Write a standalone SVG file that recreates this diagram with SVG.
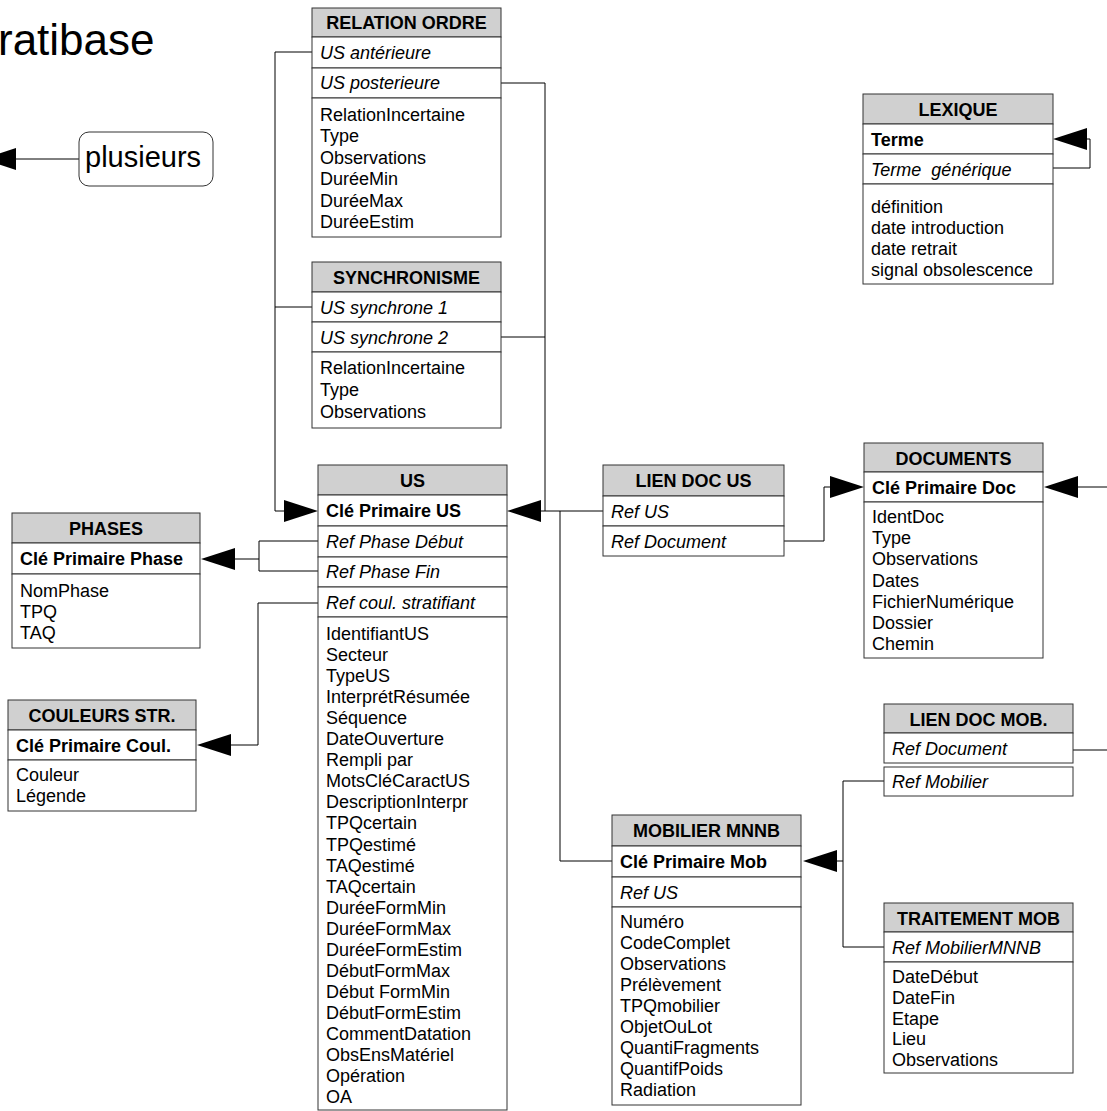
<svg xmlns="http://www.w3.org/2000/svg" width="1107" height="1111" viewBox="0 0 1107 1111">
<style>
text{font-family:"Liberation Sans",Arial,sans-serif;font-size:18px;fill:#000}
.b{font-weight:bold}
.i{font-style:italic}
.c{text-anchor:middle}
.h{fill:#d0d0d0;stroke:#333;stroke-width:1}
.r{fill:#fff;stroke:#333;stroke-width:1}
.ln{fill:none;stroke:#000;stroke-width:1}
.ttl{font-size:44px}
.pl{font-size:29px}
</style>
<defs>
<path id="ahL" d="M0,0 L34,-11 L34,11 Z" fill="#000"/>
</defs>
<rect width="1107" height="1111" fill="#fff"/>
<text class="ttl" x="-2" y="55">ratibase</text>

<g id="connectors">
<path class="ln" d="M312,52 H275 V511 H285 M312,307 H275"/>
<use href="#ahL" transform="translate(318,511) scale(-1,1)"/>
<path class="ln" d="M501,83 H545 V511 M501,337 H545 M540,511 H603"/>
<use href="#ahL" transform="translate(507,511)"/>
<path class="ln" d="M560,511 V861 H612"/>
<path class="ln" d="M318,541 H259 V571 H318 M259,559 H234"/>
<use href="#ahL" transform="translate(201,559)"/>
<path class="ln" d="M318,603 H258 V745 H230"/>
<use href="#ahL" transform="translate(197,745)"/>
<path class="ln" d="M784,541 H824 V487 H831"/>
<use href="#ahL" transform="translate(864,487) scale(-1,1)"/>
<use href="#ahL" transform="translate(1044,487)"/>
<path class="ln" d="M1077,487 H1112 M1073,750 H1112"/>
<path class="ln" d="M884,781 H843 V947 H884 M843,861 H836"/>
<use href="#ahL" transform="translate(803,861)"/>
<path class="ln" d="M1053,168 H1090 V139 H1086"/>
<use href="#ahL" transform="translate(1053,139)"/>
<path class="ln" d="M79,159 H15"/>
<use href="#ahL" transform="translate(-18,159)"/>
</g>

<g id="plusieurs">
<rect x="79" y="132" width="134" height="54" rx="10" fill="#fff" stroke="#333"/>
<text class="pl" x="85" y="167">plusieurs</text>
</g>

<g id="relation-ordre">
<rect class="h" x="312" y="8" width="189" height="29"/>
<text class="b c" x="406.5" y="29">RELATION ORDRE</text>
<rect class="r" x="312" y="37" width="189" height="31"/>
<text class="i" x="320" y="59">US antérieure</text>
<rect class="r" x="312" y="68" width="189" height="30"/>
<text class="i" x="320" y="89">US posterieure</text>
<rect class="r" x="312" y="98" width="189" height="139"/>
<text x="320" y="121"><tspan x="320">RelationIncertaine</tspan><tspan x="320" dy="21.4">Type</tspan><tspan x="320" dy="21.4">Observations</tspan><tspan x="320" dy="21.4">DuréeMin</tspan><tspan x="320" dy="21.4">DuréeMax</tspan><tspan x="320" dy="21.4">DuréeEstim</tspan></text>
</g>

<g id="synchronisme">
<rect class="h" x="312" y="262" width="189" height="30"/>
<text class="b c" x="406.5" y="284">SYNCHRONISME</text>
<rect class="r" x="312" y="292" width="189" height="30"/>
<text class="i" x="320" y="314">US synchrone 1</text>
<rect class="r" x="312" y="322" width="189" height="30"/>
<text class="i" x="320" y="344">US synchrone 2</text>
<rect class="r" x="312" y="352" width="189" height="76"/>
<text x="320" y="374"><tspan x="320">RelationIncertaine</tspan><tspan x="320" dy="22">Type</tspan><tspan x="320" dy="22">Observations</tspan></text>
</g>

<g id="us">
<rect class="h" x="318" y="465" width="189" height="30"/>
<text class="b c" x="412.5" y="487">US</text>
<rect class="r" x="318" y="495" width="189" height="31"/>
<text class="b" x="326" y="517">Clé Primaire US</text>
<rect class="r" x="318" y="526" width="189" height="31"/>
<text class="i" x="326" y="548">Ref Phase Début</text>
<rect class="r" x="318" y="557" width="189" height="30"/>
<text class="i" x="326" y="578">Ref Phase Fin</text>
<rect class="r" x="318" y="587" width="189" height="30"/>
<text class="i" x="326" y="609">Ref coul. stratifiant</text>
<rect class="r" x="318" y="617" width="189" height="493"/>
<text x="326" y="640"><tspan x="326">IdentifiantUS</tspan><tspan x="326" dy="21.05">Secteur</tspan><tspan x="326" dy="21.05">TypeUS</tspan><tspan x="326" dy="21.05">InterprétRésumée</tspan><tspan x="326" dy="21.05">Séquence</tspan><tspan x="326" dy="21.05">DateOuverture</tspan><tspan x="326" dy="21.05">Rempli par</tspan><tspan x="326" dy="21.05">MotsCléCaractUS</tspan><tspan x="326" dy="21.05">DescriptionInterpr</tspan><tspan x="326" dy="21.05">TPQcertain</tspan><tspan x="326" dy="21.05">TPQestimé</tspan><tspan x="326" dy="21.05">TAQestimé</tspan><tspan x="326" dy="21.05">TAQcertain</tspan><tspan x="326" dy="21.05">DuréeFormMin</tspan><tspan x="326" dy="21.05">DuréeFormMax</tspan><tspan x="326" dy="21.05">DuréeFormEstim</tspan><tspan x="326" dy="21.05">DébutFormMax</tspan><tspan x="326" dy="21.05">Début FormMin</tspan><tspan x="326" dy="21.05">DébutFormEstim</tspan><tspan x="326" dy="21.05">CommentDatation</tspan><tspan x="326" dy="21.05">ObsEnsMatériel</tspan><tspan x="326" dy="21.05">Opération</tspan><tspan x="326" dy="21.05">OA</tspan></text>
</g>

<g id="phases">
<rect class="h" x="12" y="513" width="188" height="30"/>
<text class="b c" x="106" y="535">PHASES</text>
<rect class="r" x="12" y="543" width="188" height="31"/>
<text class="b" x="20" y="565">Clé Primaire Phase</text>
<rect class="r" x="12" y="574" width="188" height="74"/>
<text x="20" y="597"><tspan x="20">NomPhase</tspan><tspan x="20" dy="21">TPQ</tspan><tspan x="20" dy="21">TAQ</tspan></text>
</g>

<g id="couleurs">
<rect class="h" x="8" y="700" width="188" height="30"/>
<text class="b c" x="102" y="722">COULEURS STR.</text>
<rect class="r" x="8" y="730" width="188" height="30"/>
<text class="b" x="16" y="752">Clé Primaire Coul.</text>
<rect class="r" x="8" y="760" width="188" height="51"/>
<text x="16" y="781"><tspan x="16">Couleur</tspan><tspan x="16" dy="21">Légende</tspan></text>
</g>

<g id="lexique">
<rect class="h" x="863" y="94" width="190" height="30"/>
<text class="b c" x="958" y="116">LEXIQUE</text>
<rect class="r" x="863" y="124" width="190" height="30"/>
<text class="b" x="871" y="146">Terme</text>
<rect class="r" x="863" y="154" width="190" height="30"/>
<text class="i" x="871" y="176" xml:space="preserve">Terme  générique</text>
<rect class="r" x="863" y="184" width="190" height="100"/>
<text x="871" y="213"><tspan x="871">définition</tspan><tspan x="871" dy="21">date introduction</tspan><tspan x="871" dy="21">date retrait</tspan><tspan x="871" dy="21">signal obsolescence</tspan></text>
</g>

<g id="documents">
<rect class="h" x="864" y="443" width="179" height="29"/>
<text class="b c" x="953.5" y="465">DOCUMENTS</text>
<rect class="r" x="864" y="472" width="179" height="30"/>
<text class="b" x="872" y="494">Clé Primaire Doc</text>
<rect class="r" x="864" y="502" width="179" height="156"/>
<text x="872" y="523"><tspan x="872">IdentDoc</tspan><tspan x="872" dy="21.2">Type</tspan><tspan x="872" dy="21.2">Observations</tspan><tspan x="872" dy="21.2">Dates</tspan><tspan x="872" dy="21.2">FichierNumérique</tspan><tspan x="872" dy="21.2">Dossier</tspan><tspan x="872" dy="21.2">Chemin</tspan></text>
</g>

<g id="lien-doc-us">
<rect class="h" x="603" y="465" width="181" height="31"/>
<text class="b c" x="693.5" y="487">LIEN DOC US</text>
<rect class="r" x="603" y="496" width="181" height="30"/>
<text class="i" x="611" y="518">Ref US</text>
<rect class="r" x="603" y="526" width="181" height="30"/>
<text class="i" x="611" y="548">Ref Document</text>
</g>

<g id="lien-doc-mob">
<rect class="h" x="884" y="704" width="189" height="29"/>
<text class="b c" x="978.5" y="726">LIEN DOC MOB.</text>
<rect class="r" x="884" y="733" width="189" height="30"/>
<text class="i" x="892" y="755">Ref Document</text>
<rect class="r" x="884" y="767" width="189" height="29"/>
<text class="i" x="892" y="788">Ref Mobilier</text>
</g>

<g id="mobilier">
<rect class="h" x="612" y="815" width="189" height="31"/>
<text class="b c" x="706.5" y="837">MOBILIER MNNB</text>
<rect class="r" x="612" y="846" width="189" height="31"/>
<text class="b" x="620" y="868">Clé Primaire Mob</text>
<rect class="r" x="612" y="877" width="189" height="30"/>
<text class="i" x="620" y="899">Ref US</text>
<rect class="r" x="612" y="907" width="189" height="198"/>
<text x="620" y="928"><tspan x="620">Numéro</tspan><tspan x="620" dy="21">CodeComplet</tspan><tspan x="620" dy="21">Observations</tspan><tspan x="620" dy="21">Prélèvement</tspan><tspan x="620" dy="21">TPQmobilier</tspan><tspan x="620" dy="21">ObjetOuLot</tspan><tspan x="620" dy="21">QuantiFragments</tspan><tspan x="620" dy="21">QuantifPoids</tspan><tspan x="620" dy="21">Radiation</tspan></text>
</g>

<g id="traitement">
<rect class="h" x="884" y="903" width="189" height="29"/>
<text class="b c" x="978.5" y="925">TRAITEMENT MOB</text>
<rect class="r" x="884" y="932" width="189" height="30"/>
<text class="i" x="892" y="954">Ref MobilierMNNB</text>
<rect class="r" x="884" y="962" width="189" height="111"/>
<text x="892" y="983"><tspan x="892">DateDébut</tspan><tspan x="892" dy="20.75">DateFin</tspan><tspan x="892" dy="20.75">Etape</tspan><tspan x="892" dy="20.75">Lieu</tspan><tspan x="892" dy="20.75">Observations</tspan></text>
</g>
</svg>
